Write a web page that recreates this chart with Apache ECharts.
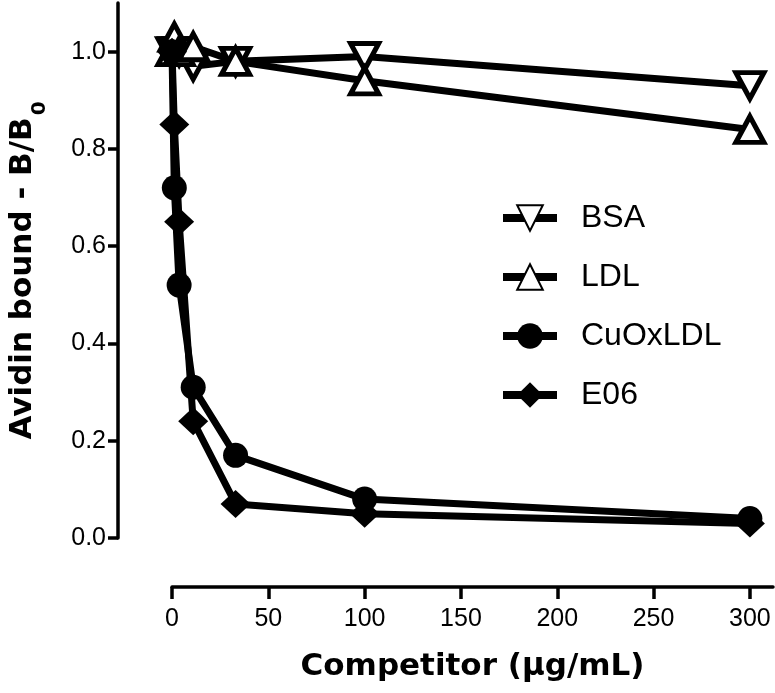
<!DOCTYPE html>
<html>
<head>
<meta charset="utf-8">
<script src="https://cdn.jsdelivr.net/npm/echarts@6/dist/echarts.min.js"></script>
<style>
  html, body { margin: 0; padding: 0; background: #fff; }
  #chart { width: 775px; height: 693px; }
</style>
</head>
<body>
<div id="chart"></div>
<script>
// competitor concentration (ug/mL) and B/B0
const concentrations = [0, 1.2, 3.7, 11, 33, 100, 300];
const bsa     = [1.00, 1.00, 1.00, 0.97, 0.98, 0.99, 0.93];
const ldl     = [1.00, 1.03, 1.00, 1.01, 0.98, 0.94, 0.84];
const cuOxLdl = [1.00, 0.72, 0.52, 0.31, 0.17, 0.08, 0.04];
const e06     = [1.00, 0.85, 0.65, 0.24, 0.07, 0.05, 0.03];

const xTicks = [0, 50, 100, 150, 200, 250, 300];
const yTicks = [0, 0.2, 0.4, 0.6, 0.8, 1.0];

const chart = echarts.init(document.getElementById('chart'));

const pairs = arr => concentrations.map((x, i) => [x, arr[i]]);

const hollow = { color: '#fff', borderColor: '#000', borderWidth: 5 };
const filled = { color: '#000', borderColor: '#000', borderWidth: 0 };

const mkSeries = (name, arr, symbol, size, style, rotate) => ({
  name,
  type: 'line',
  data: pairs(arr),
  symbol,
  symbolSize: size,
  symbolRotate: rotate || 0,
  showAllSymbol: true,
  lineStyle: { color: '#000', width: 7 },
  itemStyle: style,
  emphasis: { disabled: true },
  animation: false
});

const axisFont = 'Liberation Sans, Arial, sans-serif';
const titleFont = 'DejaVu Sans, sans-serif';

const option = {
  backgroundColor: '#fff',
  animation: false,
  grid: { left: 172, right: 2, top: 3, bottom: 155, outerBoundsMode: 'none', containLabel: false },
  legend: {
    orient: 'vertical',
    left: 499,
    top: 202,
    padding: 0,
    itemWidth: 54,
    itemHeight: 32,
    itemGap: 27,
    selectedMode: false,
    lineStyle: { width: 8, color: '#000' },
    textStyle: { fontFamily: axisFont, fontSize: 32, color: '#000', padding: [0, 0, 0, 19] },
    data: ['BSA', 'LDL', 'CuOxLDL', 'E06']
  },
  xAxis: {
    type: 'value',
    min: 0,
    max: 312,
    offset: 49,
    axisLine: { show: true, onZero: false, lineStyle: { color: '#000', width: 3.5 } },
    axisTick: { show: true, length: 12, lineStyle: { color: '#000', width: 3.5 }, customValues: xTicks },
    axisLabel: { customValues: xTicks, margin: 20, fontFamily: axisFont, fontSize: 25, color: '#000' },
    splitLine: { show: false },
    name: 'Competitor (μg/mL)',
    nameLocation: 'middle',
    nameGap: 64,
    nameTextStyle: { fontFamily: titleFont, fontWeight: 'bold', fontSize: 31, color: '#000' }
  },
  yAxis: {
    type: 'value',
    min: 0,
    max: 1.1,
    offset: 54,
    axisLine: { show: true, onZero: false, lineStyle: { color: '#000', width: 3.5 } },
    axisTick: { show: true, length: 10, lineStyle: { color: '#000', width: 3.5 }, customValues: yTicks },
    axisLabel: {
      customValues: yTicks,
      margin: 12,
      fontFamily: axisFont,
      fontSize: 25,
      color: '#000',
      formatter: v => v.toFixed(1)
    },
    splitLine: { show: false },
    name: '{a|Avidin bound - B/B}{s|0}',
    nameLocation: 'middle',
    nameRotate: 90,
    nameGap: 78,
    nameTextStyle: {
      rich: {
        a: { fontFamily: titleFont, fontWeight: 'bold', fontSize: 31, color: '#000', lineHeight: 34 },
        s: { fontFamily: titleFont, fontWeight: 'bold', fontSize: 20, color: '#000', lineHeight: 34, verticalAlign: 'bottom', padding: [0, 0, -10, 2] }
      }
    }
  },
  series: [
    mkSeries('BSA', bsa, 'triangle', [28, 26], hollow, 180),
    mkSeries('LDL', ldl, 'triangle', [28, 26], hollow),
    mkSeries('CuOxLDL', cuOxLdl, 'circle', 25, filled),
    mkSeries('E06', e06, 'diamond', [30, 28], filled)
  ]
};

chart.setOption(option);
</script>
</body>
</html>
